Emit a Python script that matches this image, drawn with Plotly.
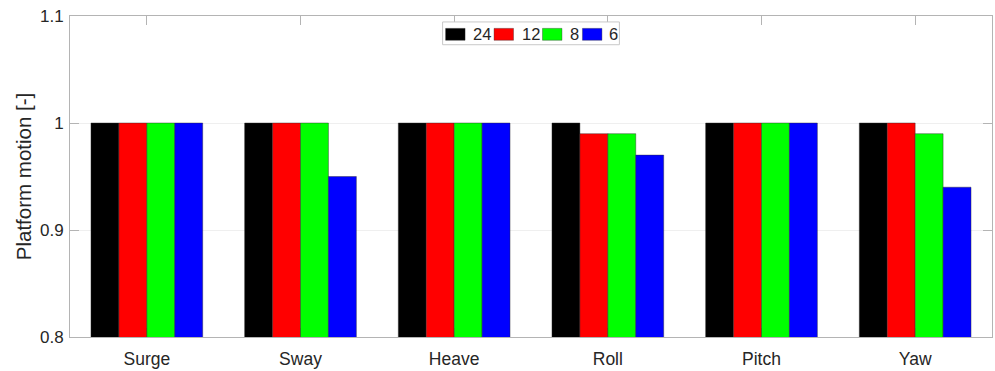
import plotly.graph_objects as go

# Platform motion per degree of freedom for each case
categories = ["Surge", "Sway", "Heave", "Roll", "Pitch", "Yaw"]
series_names = ["24", "12", "8", "6"]
values_24 = [1.00, 1.00, 1.00, 1.00, 1.00, 1.00]
values_12 = [1.00, 1.00, 1.00, 0.99, 1.00, 1.00]
values_8 = [1.00, 1.00, 1.00, 0.99, 1.00, 0.99]
values_6 = [1.00, 0.95, 1.00, 0.97, 1.00, 0.94]
series_values = [values_24, values_12, values_8, values_6]
colors = ["#000000", "#ff0000", "#00ff00", "#0000ff"]

y_ticks = [0.8, 0.9, 1.0, 1.1]
y_tick_labels = ["0.8", "0.9", "1", "1.1"]

FONT = "Liberation Sans, Arial, sans-serif"
TXT = "#262626"
AXIS = "#b4b4b4"

fig = go.Figure()
for name, vals, col in zip(series_names, series_values, colors):
    fig.add_trace(go.Bar(
        x=categories, y=vals, name=name,
        marker=dict(color=col, line=dict(color="rgba(40,40,40,0.7)", width=0.6)),
        showlegend=False,
    ))

# Plot area in pixels, used to place the legend box
W, H = 995, 371
L, R, T, B = 70, 2, 16, 31
pw, ph = W - L - R, H - T - B


def px_x(p):
    return (p - L) / pw


def px_y(p):
    return (H - B - p) / ph


# Legend: bordered box with coloured swatches and labels
shapes = [dict(type="rect", xref="paper", yref="paper",
               x0=px_x(443), x1=px_x(620), y0=px_y(45), y1=px_y(22),
               line=dict(color="#c8c8c8", width=1), fillcolor="white", layer="above")]
annotations = []
swatch_left = [446, 494.5, 543, 583]
text_left = [471.5, 520.5, 569, 608]
for name, col, sx, tx in zip(series_names, colors, swatch_left, text_left):
    shapes.append(dict(type="rect", xref="paper", yref="paper",
                       x0=px_x(sx), x1=px_x(sx + 19.5), y0=px_y(40.5), y1=px_y(28.5),
                       line=dict(color="rgba(40,40,40,0.6)", width=0.6), fillcolor=col, layer="above"))
    annotations.append(dict(xref="paper", yref="paper", x=px_x(tx), y=px_y(34.5),
                            text=name, showarrow=False, xanchor="left", yanchor="middle",
                            font=dict(family=FONT, size=16.5, color=TXT)))

fig.update_layout(
    width=W, height=H,
    margin=dict(l=L, r=R, t=T, b=B, pad=0),
    paper_bgcolor="white", plot_bgcolor="white",
    barmode="group", bargap=0.273, bargroupgap=0,
    font=dict(family=FONT, size=17, color=TXT),
    shapes=shapes, annotations=annotations,
    xaxis=dict(
        type="category", range=[-0.5, 5.5],
        showline=True, linecolor=AXIS, linewidth=1, mirror="ticks",
        ticks="inside", ticklen=9, tickcolor=AXIS, tickwidth=1,
        showgrid=False, layer="below traces",
        ticklabelstandoff=6,
        tickfont=dict(family=FONT, size=17.5, color=TXT),
    ),
    yaxis=dict(
        range=[0.8, 1.1], tickvals=y_ticks, ticktext=y_tick_labels,
        showline=True, linecolor=AXIS, linewidth=1, mirror="ticks",
        ticks="inside", ticklen=9, tickcolor=AXIS, tickwidth=1,
        showgrid=True, gridcolor="#efefef", gridwidth=1, zeroline=False,
        layer="below traces",
        ticklabelstandoff=2,
        tickfont=dict(family=FONT, size=17, color=TXT),
        title=dict(text="Platform motion [-]", standoff=2,
                   font=dict(family=FONT, size=20.5, color=TXT)),
    ),
)

fig.write_html("out.html")
